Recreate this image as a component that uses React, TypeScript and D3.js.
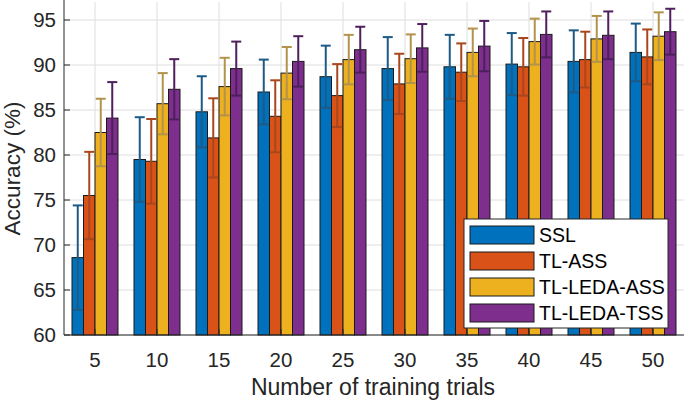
import React from 'react';
import * as d3 from 'd3';

const trials = [5, 10, 15, 20, 25, 30, 35, 40, 45, 50];
const seriesNames = ['SSL', 'TL-ASS', 'TL-LEDA-ASS', 'TL-LEDA-TSS'];

const sslMean = [68.6, 79.5, 84.8, 87.0, 88.7, 89.6, 89.8, 90.1, 90.4, 91.4];
const sslErr = [5.8, 4.7, 3.95, 3.6, 3.45, 3.5, 3.55, 3.45, 3.45, 3.2];
const tlAssMean = [75.5, 79.3, 81.9, 84.3, 86.6, 87.9, 89.2, 89.8, 90.6, 90.9];
const tlAssErr = [4.85, 4.7, 4.4, 4.0, 3.5, 3.35, 3.2, 3.2, 3.1, 3.05];
const ledaAssMean = [82.5, 85.7, 87.6, 89.1, 90.6, 90.7, 91.4, 92.6, 92.9, 93.2];
const ledaAssErr = [3.75, 3.4, 3.2, 2.9, 2.75, 2.7, 2.65, 2.55, 2.55, 2.65];
const ledaTssMean = [84.1, 87.3, 89.6, 90.4, 91.7, 91.9, 92.1, 93.4, 93.3, 93.7];
const ledaTssErr = [4.0, 3.35, 3.0, 2.8, 2.55, 2.65, 2.8, 2.55, 2.65, 2.55];

const yTicks = [60, 65, 70, 75, 80, 85, 90, 95];

const fills = ['#0072BD', '#D95319', '#EDB120', '#7E2F8E'];
const errColors = ['#1d5a86', '#a9461c', '#b3934c', '#4e1f5c'];

const W = 685;
const H = 402;
const font = '"Liberation Sans", Arial, Helvetica, sans-serif';
const ink = '#262626';

export default function App() {
  const means = [sslMean, tlAssMean, ledaAssMean, ledaTssMean];
  const errs = [sslErr, tlAssErr, ledaAssErr, ledaTssErr];

  const x = d3.scaleLinear().domain([2.5, 52.5]).range([64, 684]);
  const y = d3.scaleLinear().domain([60, 97]).range([335, 2]);
  const inner = d3.scaleBand<string>().domain(seriesNames).range([-23, 23]).padding(0);
  const bw = inner.bandwidth();

  const [x0, x1] = x.range();
  const [yb, yt] = y.range();

  return (
    <svg width={W} height={H} style={{ position: 'absolute', left: 0, top: 0, background: '#fff' }} fontFamily={font}>
      {/* grid */}
      <g stroke="#dedede" strokeWidth={1}>
        {yTicks.map((t) => (
          <line key={'gy' + t} x1={x0} x2={x1} y1={y(t)} y2={y(t)} />
        ))}
        {trials.map((t) => (
          <line key={'gx' + t} x1={x(t)} x2={x(t)} y1={yb} y2={yt} />
        ))}
      </g>

      {/* bars */}
      {seriesNames.map((s, si) => (
        <g key={s}>
          {trials.map((t, i) => {
            const bx = x(t) + (inner(s) as number);
            const v = means[si][i];
            return (
              <rect key={t} x={bx} y={y(v)} width={bw} height={yb - y(v)}
                fill={fills[si]} stroke="#1a1a1a" strokeWidth={1} />
            );
          })}
        </g>
      ))}

      {/* error bars */}
      {seriesNames.map((s, si) => (
        <g key={'e' + s} stroke={errColors[si]} strokeWidth={2} fill="none">
          {trials.map((t, i) => {
            const cx = x(t) + (inner(s) as number) + bw / 2;
            const lo = y(means[si][i] - errs[si][i]);
            const hi = y(means[si][i] + errs[si][i]);
            const cap = 5;
            return (
              <g key={t}>
                <line x1={cx} x2={cx} y1={lo} y2={hi} />
                <line x1={cx - cap} x2={cx + cap} y1={hi} y2={hi} />
                <line x1={cx - cap} x2={cx + cap} y1={lo} y2={lo} />
              </g>
            );
          })}
        </g>
      ))}

      {/* axes */}
      <g stroke={ink} strokeWidth={1}>
        <line x1={x0} x2={x0} y1={0} y2={yb} />
        <line x1={x0} x2={x1} y1={yb} y2={yb} />
        {yTicks.map((t) => (
          <line key={'ty' + t} x1={x0} x2={x0 + 6} y1={y(t)} y2={y(t)} />
        ))}
        {trials.map((t) => (
          <line key={'tx' + t} x1={x(t)} x2={x(t)} y1={yb} y2={yb - 6} />
        ))}
      </g>
      <g fill={ink} fontSize={20.5}>
        {yTicks.map((t) => (
          <text key={'ly' + t} x={x0 - 8} y={y(t)} dy="0.36em" textAnchor="end">{t}</text>
        ))}
        {trials.map((t) => (
          <text key={'lx' + t} x={x(t)} y={367} textAnchor="middle">{t}</text>
        ))}
      </g>
      <text x={(x0 + x1) / 2 - 1} y={395} textAnchor="middle" fontSize={23} fill={ink}>
        Number of training trials
      </text>
      <text transform={`translate(19.5,${(yb + yt) / 2}) rotate(-90)`} textAnchor="middle" fontSize={22.5} fill={ink}>
        Accuracy (%)
      </text>

      {/* legend */}
      <g>
        <rect x={464} y={219} width={204} height={109} fill="#fff" stroke={ink} strokeWidth={1} />
        {seriesNames.map((s, si) => (
          <g key={'lg' + s} transform={`translate(470,${226 + si * 26})`}>
            <rect x={0} y={0} width={64} height={18} fill={fills[si]} stroke="#1a1a1a" strokeWidth={1} />
            <text x={69} y={9} dy="0.36em" fontSize={19.5} fill="#000">{s}</text>
          </g>
        ))}
      </g>
    </svg>
  );
}
